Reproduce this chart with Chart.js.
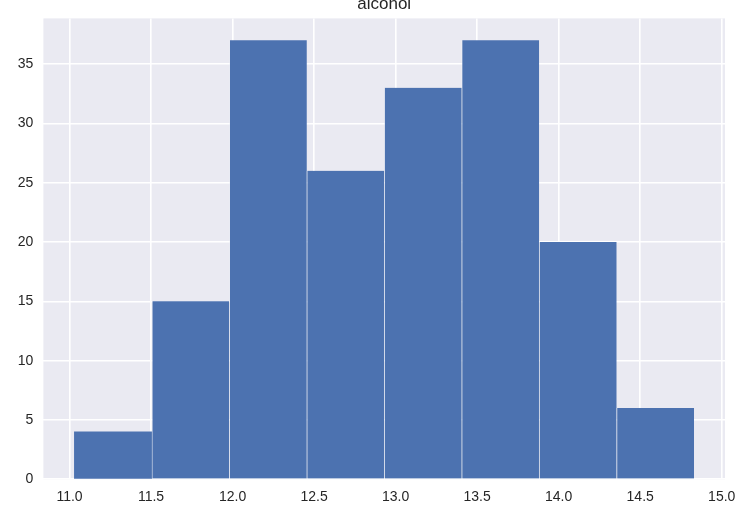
<!DOCTYPE html>
<html>
<head>
<meta charset="utf-8">
<script src="https://cdn.jsdelivr.net/npm/chart.js@4"></script>
<style>
  html, body { margin: 0; padding: 0; background: #ffffff; }
  #wrap { width: 745px; height: 513px; position: relative; }
</style>
</head>
<body>
<div id="wrap"><canvas id="c" width="745" height="513"></canvas></div>
<script>
// Histogram of "alcohol": bin edges and counts
const binEdges = [11.03, 11.505, 11.98, 12.455, 12.93, 13.405, 13.88, 14.355, 14.83];
const counts = [4, 15, 37, 26, 33, 37, 20, 6];
const xTickValues = [11.0, 11.5, 12.0, 12.5, 13.0, 13.5, 14.0, 14.5, 15.0];
const yTickValues = [0, 5, 10, 15, 20, 25, 30, 35];
const chartTitle = 'alcohol';

const points = counts.map((c, i) => ({ x: (binEdges[i] + binEdges[i + 1]) / 2, y: c }));
const xMin = binEdges[0] - 0.05 * (binEdges[binEdges.length - 1] - binEdges[0]);
const xMax = binEdges[binEdges.length - 1] + 0.05 * (binEdges[binEdges.length - 1] - binEdges[0]);
const yMax = Math.max(...counts) * 1.05;

const FONT = '"Liberation Sans", Arial, "DejaVu Sans", sans-serif';
const TEXT = '#262626';

const plotBg = {
  id: 'plotBg',
  beforeDraw(chart) {
    const { ctx, chartArea: a } = chart;
    ctx.save();
    ctx.fillStyle = '#eaeaf2';
    ctx.fillRect(a.left, a.top, a.right - a.left, a.bottom - a.top);
    ctx.restore();
  }
};

new Chart(document.getElementById('c'), {
  type: 'bar',
  data: {
    datasets: [{
      label: chartTitle,
      data: points,
      backgroundColor: '#4c72b0',
      borderColor: 'rgba(255,255,255,0.35)',
      borderWidth: (ctx) => ({ left: ctx.dataIndex > 0 ? 1 : 0, right: 0, top: 0, bottom: 0 }),
      borderSkipped: false,
      barPercentage: 1.0,
      categoryPercentage: 1.0
    }]
  },
  options: {
    responsive: false,
    animation: false,
    devicePixelRatio: 1,
    layout: { padding: { top: 0, left: 0, right: 20, bottom: 0 } },
    plugins: {
      legend: { display: false },
      tooltip: { enabled: false },
      title: {
        display: true,
        text: chartTitle,
        fullSize: false,
        color: TEXT,
        font: { family: FONT, size: 17, weight: 'normal', lineHeight: 1.2 },
        padding: { top: -9.2, bottom: 3.8 }
      }
    },
    scales: {
      x: {
        type: 'linear',
        offset: false,
        min: xMin,
        max: xMax,
        afterFit: (s) => { s.height = 33.7; },
        afterBuildTicks: (s) => { s.ticks = xTickValues.map(v => ({ value: v })); },
        ticks: {
          includeBounds: false,
          padding: 9,
          color: TEXT,
          font: { family: FONT, size: 14 },
          maxRotation: 0,
          autoSkip: false,
          callback: (v) => Number(v).toFixed(1)
        },
        grid: { color: '#ffffff', lineWidth: 1.6, drawTicks: false, offset: false },
        border: { display: false }
      },
      y: {
        type: 'linear',
        min: 0,
        max: yMax,
        afterFit: (s) => { s.width = 43.4; },
        afterBuildTicks: (s) => { s.ticks = yTickValues.map(v => ({ value: v })); },
        ticks: {
          includeBounds: false,
          padding: 10,
          color: TEXT,
          font: { family: FONT, size: 14 },
          autoSkip: false,
          callback: (v) => String(v)
        },
        grid: { color: '#ffffff', lineWidth: 1.6, drawTicks: false },
        border: { display: false }
      }
    }
  },
  plugins: [plotBg]
});
</script>
</body>
</html>
